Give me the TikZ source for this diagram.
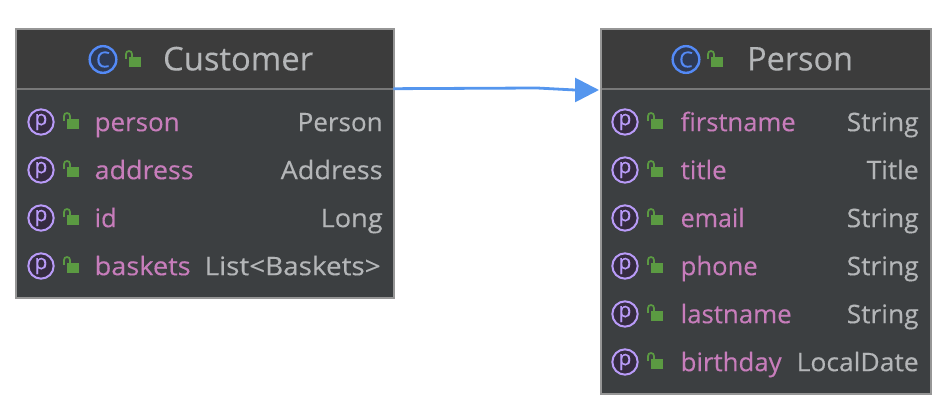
\documentclass[tikz,border=0pt]{standalone}
\usepackage{fontspec}
\setmainfont[FakeBold=0.25]{Open Sans}
\usetikzlibrary{arrows.meta}
\definecolor{headbg}{HTML}{3C3C3C}
\definecolor{bodybg}{HTML}{3C3F41}
\definecolor{edge}{HTML}{969696}
\definecolor{sepline}{HTML}{787878}
\definecolor{fieldname}{HTML}{C77DBB}
\definecolor{typename}{HTML}{B4B6B8}
\definecolor{lockgreen}{HTML}{5B9A42}
\definecolor{fieldring}{HTML}{B99BF8}
\definecolor{fieldfill}{HTML}{352B40}
\definecolor{classring}{HTML}{548AF7}
\definecolor{classfill}{HTML}{2E3A55}
\definecolor{arrowblue}{HTML}{5596EE}
\newlength{\fitlen}
\newcommand{\fitw}[2]{\settowidth{\fitlen}{#2}\pgfmathsetmacro{\fitr}{((#1)*0.75)/(\fitlen/1pt)}\scalebox{\fitr}[1]{#2}}
\tikzset{
  x=0.75pt,y=-0.75pt,
  boxbody/.style={draw=edge,line width=1pt,fill=bodybg,anchor=north west,inner sep=0pt,outer sep=0pt},
  boxhead/.style={fill=headbg,anchor=north west,inner sep=0pt,outer sep=0pt},
  titletext/.style={anchor=base west,inner sep=0pt,text=typename,font=\fontsize{24.5pt}{28pt}\selectfont},
  nametext/.style={anchor=base west,inner sep=0pt,text=fieldname,font=\fontsize{19.2pt}{22pt}\selectfont},
  typetext/.style={anchor=base west,inner sep=0pt,text=typename,font=\fontsize{19.2pt}{22pt}\selectfont},
  fieldicon/.style={circle,draw=fieldring,fill=fieldfill,line width=1.5pt,minimum size=19pt,inner sep=0pt,text=fieldring,font=\fontsize{15.5pt}{15pt}\selectfont},
  classicon/.style={circle,draw=classring,fill=classfill,line width=1.8pt,minimum size=20pt,inner sep=0pt,text=classring,font=\fontsize{16.5pt}{15pt}\selectfont},
  connector/.style={draw=arrowblue,line width=2.1pt,-{Triangle[length=18pt,width=18pt,fill=arrowblue]}}
}
% lock icon: x = body left, y = body top (pixels)
\newcommand{\lockicon}[2]{%
  \fill[lockgreen] (#1,#2) rectangle ++(12,10);
  \draw[lockgreen,line width=1.3pt] (#1-3,#2+2) -- (#1-3,#2-3) arc[start angle=180,end angle=0,x radius=3,y radius=-3] -- (#1+3,#2+1);
}
% id, icon x, y, name, name x, name w, type, type x, type w
\newcommand{\fieldrow}[9]{%
  \node[fieldicon] (#1icon) at (#2,#3) {p};
  \lockicon{\the\numexpr#2+26\relax}{\the\numexpr#3-3\relax}
  \node[nametext] (#1name) at (#5-0.6,#3+9.2) {\fitw{#6+1}{#4}};
  \node[typetext] (#1type) at (#8-0.6,#3+9.2) {\fitw{#9+1}{#7}};
}
\begin{document}
\begin{tikzpicture}
\useasboundingbox (0,0) rectangle (950,416);
% Customer
\node[boxbody,minimum width=283.5pt,minimum height=201.75pt] (customer) at (16,29) {};
\node[boxhead,minimum width=282.5pt,minimum height=44.25pt] (customerhead) at (16.7,29.7) {};
\draw[sepline,line width=1.4pt] (customerhead.south west) -- (customerhead.south east);
\node[classicon] (customerc) at (103,59.5) {C};
\lockicon{129}{57}
\node[titletext] (customertitle) at (162.8,70.4) {\fitw{150}{Customer}};
\fieldrow{a}{41}{122}{person}{95}{84}{Person}{298}{84}
\fieldrow{b}{41}{170}{address}{95}{98}{Address}{281}{101}
\fieldrow{c}{41}{218}{id}{95}{21}{Long}{321}{61}
\fieldrow{d}{41}{266}{baskets}{95}{95}{List<Baskets>}{205}{175}
% Person
\node[boxbody,minimum width=247.5pt,minimum height=273.75pt] (person) at (601,29) {};
\node[boxhead,minimum width=246.5pt,minimum height=44.25pt] (personhead) at (601.7,29.7) {};
\draw[sepline,line width=1.4pt] (personhead.south west) -- (personhead.south east);
\node[classicon] (personc) at (686,59.5) {C};
\lockicon{711}{57}
\node[titletext] (persontitle) at (746.8,70.4) {\fitw{106}{Person}};
\fieldrow{e}{625}{122}{firstname}{681}{114}{String}{847}{71}
\fieldrow{f}{625}{170}{title}{681}{45}{Title}{867}{51}
\fieldrow{g}{625}{218}{email}{681}{63}{String}{847}{71}
\fieldrow{h}{625}{266}{phone}{681}{76}{String}{847}{71}
\fieldrow{i}{625}{314}{lastname}{681}{110}{String}{847}{71}
\fieldrow{j}{625}{362}{birthday}{681}{100}{LocalDate}{797}{121}
% connector
\coordinate (bend) at (537,88);
\coordinate (tip) at (599,90);
\draw[connector] (customerhead.south east) -- (bend) -- (575,90) -- (tip);
\end{tikzpicture}
\end{document}
